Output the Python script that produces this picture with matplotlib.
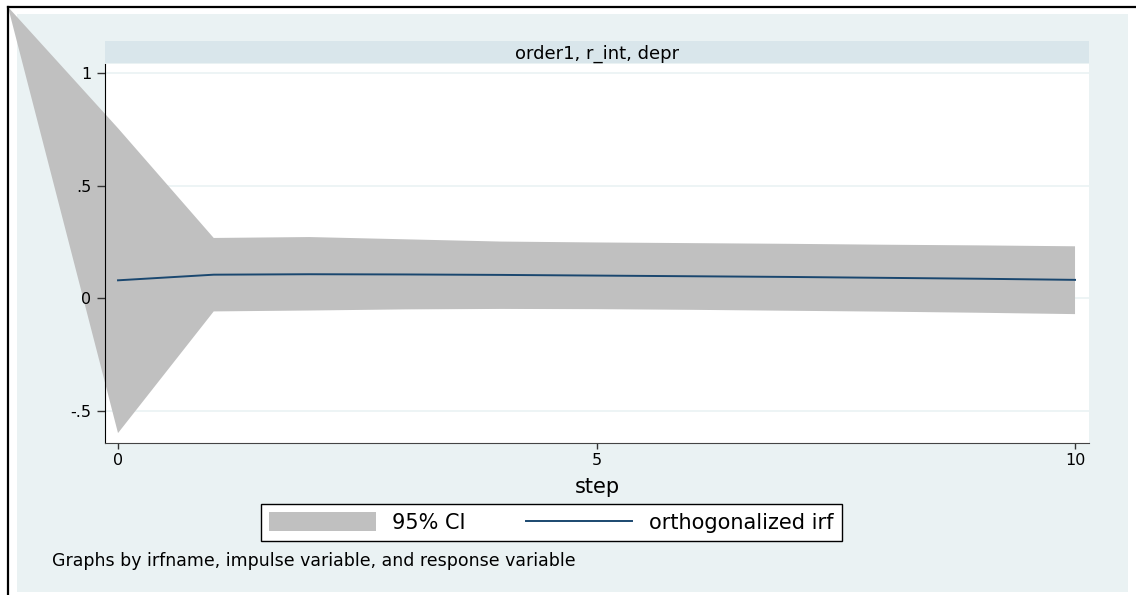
import numpy as np
import matplotlib.pyplot as plt
from matplotlib.patches import Rectangle, Polygon
from matplotlib.lines import Line2D

# irf data
steps = [0, 1, 2, 3, 4, 5, 6, 7, 8, 9, 10]
irf = [0.080, 0.105, 0.107, 0.106, 0.104, 0.101, 0.098, 0.095, 0.091, 0.087, 0.082]
ci_upper = [0.755, 0.268, 0.272, 0.262, 0.252, 0.248, 0.245, 0.242, 0.238, 0.235, 0.231]
ci_lower = [-0.598, -0.058, -0.054, -0.049, -0.047, -0.048, -0.051, -0.055, -0.059, -0.064, -0.070]

y_ticks = [-0.5, 0, 0.5, 1]
y_tick_labels = ['-.5', '0', '.5', '1']
x_ticks = [0, 5, 10]
panel_title = 'order1, r_int, depr'
legend_labels = ['95% CI', 'orthogonalized irf']
note = 'Graphs by irfname, impulse variable, and response variable'

plt.rcParams['font.family'] = ['DejaVu Sans']

W, H = 1136, 595
fig = plt.figure(figsize=(W / 100, H / 100), dpi=100)
fig.patch.set_facecolor('white')

band_color = '#c0c0c0'
line_color = '#1a476f'
bg_color = '#eaf2f3'

# graph region background and the black frame on top/left
fig.patches.append(Rectangle((17 / W, 1 - 592 / H), (1128 - 17) / W, (592 - 14) / H,
                             transform=fig.transFigure, facecolor=bg_color,
                             edgecolor='none', zorder=-2))
fig.add_artist(Line2D([8 / W, 8 / W], [0, 1 - 7 / H], color='black', lw=1.6))
fig.add_artist(Line2D([8 / W, 1], [1 - 7 / H, 1 - 7 / H], color='black', lw=1.6))

# panel strip
fig.patches.append(Rectangle((105 / W, 1 - 63 / H), 984 / W, 22 / H,
                             transform=fig.transFigure, facecolor='#d9e6eb',
                             edgecolor='none', zorder=-1))
fig.text(597 / W, 1 - 59 / H, panel_title, ha='center', va='baseline', fontsize=13)

ax = fig.add_axes([105 / W, 1 - 443 / H, 984 / W, 379 / H])
ax.set_facecolor('white')
ax.set_xlim(-0.136, 10.146)
ax.set_ylim(-0.642, 1.040)

for yt in y_ticks:
    ax.axhline(yt, color=bg_color, lw=1.2, zorder=0.5)

# CI band as one polygon; its closing vertex strays to the graph corner
to_fig = ax.transData + fig.transFigure.inverted()
upper_pts = to_fig.transform(np.column_stack([steps, ci_upper]))[::-1]
lower_pts = to_fig.transform(np.column_stack([steps, ci_lower]))
corner = np.array([[8 / W, 1 - 7 / H]])
band = Polygon(np.vstack([upper_pts, corner, lower_pts]), closed=True,
               transform=fig.transFigure, facecolor=band_color, edgecolor='none',
               clip_on=False, zorder=1, label=legend_labels[0])
ax.add_artist(band)

irf_line, = ax.plot(steps, irf, color=line_color, lw=1.4, zorder=2,
                    label=legend_labels[1])

ax.set_yticks(y_ticks)
ax.set_yticklabels(y_tick_labels)
ax.set_xticks(x_ticks)
ax.tick_params(axis='y', direction='out', length=5.8, width=1, color='#333333',
               labelsize=11.5, pad=4)
ax.tick_params(axis='x', direction='out', length=4.3, width=1, color='#333333',
               labelsize=11.5, pad=3)
for s in ['top', 'right']:
    ax.spines[s].set_visible(False)
ax.spines['left'].set_color('black')
ax.spines['bottom'].set_color('#444444')
ax.set_xlabel('step', fontsize=15)
ax.xaxis.set_label_coords(0.5, (443 - 493) / 379)
ax.xaxis.label.set_verticalalignment('baseline')

leg = ax.legend(handles=[band, irf_line], loc='center left',
                bbox_to_anchor=(261 / W, 1 - 522.5 / H),
                bbox_transform=fig.transFigure, ncol=2, fontsize=15,
                handlelength=5.1, handleheight=1.0, handletextpad=0.8,
                columnspacing=2.9, fancybox=False, framealpha=1,
                borderpad=0.4, borderaxespad=0)
leg.get_frame().set_edgecolor('black')
leg.get_frame().set_linewidth(1)

fig.text(52 / W, 1 - 566 / H, note, ha='left', va='baseline', fontsize=12.5)

fig.savefig('out.png', dpi=100)
